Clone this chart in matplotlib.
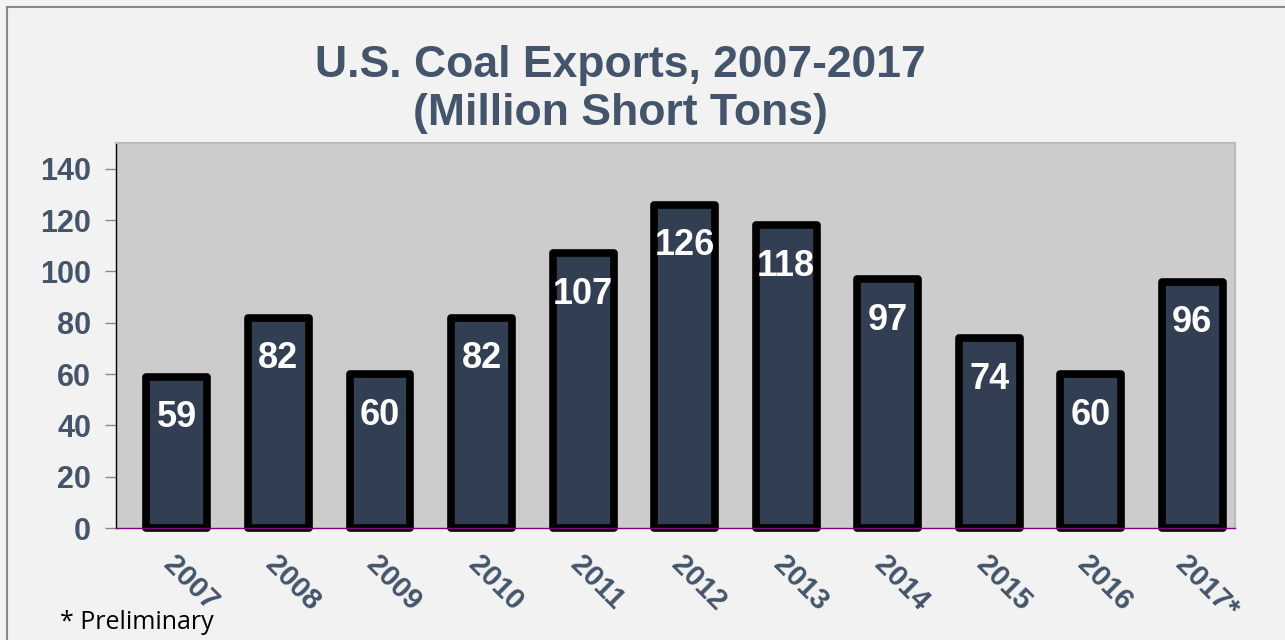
import matplotlib
matplotlib.use("Agg")
import matplotlib.pyplot as plt
import matplotlib.transforms as mtransforms
from matplotlib.patches import Rectangle

years = ["2007", "2008", "2009", "2010", "2011", "2012", "2013", "2014", "2015", "2016", "2017*"]
exports = [59, 82, 60, 82, 107, 126, 118, 97, 74, 60, 96]
yticks = [0, 20, 40, 60, 80, 100, 120, 140]

plt.rcParams['font.family'] = ['Liberation Sans', 'DejaVu Sans']
W, H = 1285, 640
fig = plt.figure(figsize=(W / 100, H / 100), dpi=100, facecolor='#f2f2f2')

# outer frame
fig.patches.append(Rectangle((7 / W, -0.1), 1.2, 1 - 7 / H + 0.1, transform=fig.transFigure,
                             fill=False, edgecolor='#888888', linewidth=1.5))

ax = fig.add_axes([116 / W, 1 - 528 / H, (1235 - 116) / W, (528 - 143) / H])
ax.set_facecolor('#cccccc')

x = list(range(len(years)))
bars = ax.bar(x, exports, width=0.6, color='#323e51', edgecolor='black', linewidth=5.5,
              joinstyle='round', zorder=2)
for b in bars:
    b.set_clip_on(False)

ax.set_xlim(-0.6, len(years) - 0.58)
ax.set_ylim(0, 150)
ax.set_yticks(yticks)
ax.set_yticklabels([str(t) for t in yticks], fontsize=22, fontweight='bold', color='#44546a')
ax.tick_params(axis='y', length=8, width=1, color='#888888', pad=10)

ax.set_xticks(x)
ax.set_xticklabels(years, rotation=-45, ha='center', va='top', fontsize=21,
                   fontweight='bold', color='#44546a')
ax.tick_params(axis='x', length=0, pad=16)
offset = mtransforms.ScaledTranslation(14 / 100, 0, fig.dpi_scale_trans)
for lbl in ax.get_xticklabels():
    lbl.set_transform(lbl.get_transform() + offset)

for s in ['top', 'right']:
    ax.spines[s].set_color('#bbbbbb')
    ax.spines[s].set_linewidth(1.5)
ax.spines['left'].set_color('black')
ax.spines['left'].set_linewidth(1)
ax.spines['bottom'].set_color('#800080')
ax.spines['bottom'].set_linewidth(1)
ax.spines['bottom'].set_zorder(3)

for xi, v in zip(x, exports):
    ax.text(xi, v - 16, str(v), ha='center', va='center', fontsize=26,
            fontweight='bold', color='white', zorder=4)

fig.text(620 / W, 1 - 65 / H, "U.S. Coal Exports, 2007-2017",
         ha='center', va='center', fontsize=32, fontweight='bold', color='#44546a')
fig.text(620 / W, 1 - 114 / H, "(Million Short Tons)",
         ha='center', va='center', fontsize=32, fontweight='bold', color='#44546a')

fig.text(60 / W, 1 - 629 / H, "* Preliminary", ha='left', va='baseline', fontsize=18,
         color='black', family=['Open Sans', 'DejaVu Sans'])

fig.savefig("out.png", dpi=100, facecolor=fig.get_facecolor())
